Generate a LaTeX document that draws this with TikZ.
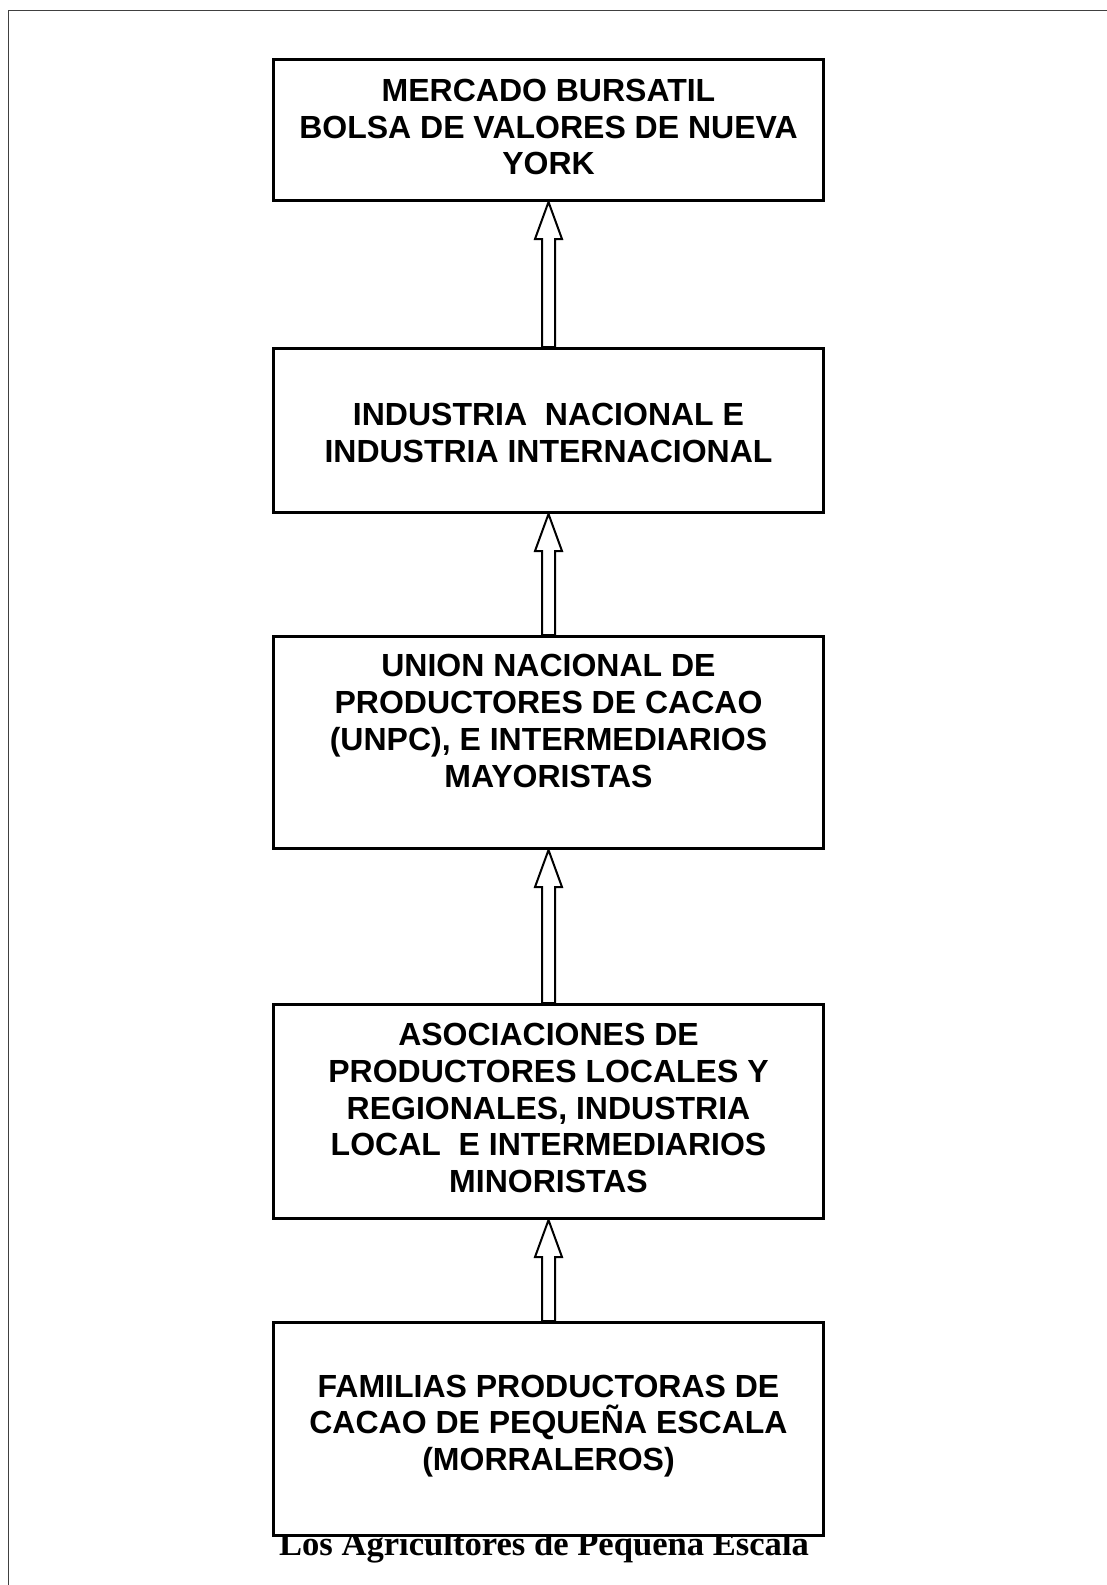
\documentclass[tikz,border=0pt]{standalone}
\usepackage{fontspec}
\setmainfont{Liberation Sans}
\newfontfamily\romanfont{Liberation Serif}
\usetikzlibrary{calc}

\tikzset{
  caja/.style={draw, line width=1.5pt, fill=white, minimum width=275pt, inner sep=0pt},
  texto/.style={align=center, font=\fontsize{16}{18.4}\selectfont\bfseries},
  flecha/.style={draw, line width=1pt, fill=white, line join=miter},
}

% hollow block arrow from the lower box up to the upper one
\newcommand{\flechahueca}[2]{%
  \draw[flecha] (#1.south) -- ++(13.5,37) -- ++(-7,0)
    -- ($(#2.north)+(6.5,0)$) -- ($(#2.north)+(-6.5,0)$)
    -- ($(#1.south)+(-6.5,37)$) -- ++(-7,0) -- cycle;
}

\begin{document}
\begin{tikzpicture}[x=0.5pt,y=-0.5pt]
\useasboundingbox (0,0) rectangle (1107,1585);

% Frame
\draw[line width=0.5pt, black!75] (8,1585) -- (8,10) -- (1107,10);

% Caption (partly hidden by the last box)
\node[font=\romanfont\fontsize{17.3}{20}\selectfont\bfseries, anchor=base] (pie) at (544,1555) {Los Agricultores de Pequeña Escala};

% Boxes
\node[caja, minimum height=70.5pt] (bolsa) at (548.5,130) {};
\node[caja, minimum height=82pt] (industria) at (548.5,430.5) {};
\node[caja, minimum height=106pt] (unpc) at (548.5,742.5) {};
\node[caja, minimum height=107pt] (asociaciones) at (548.5,1111.5) {};
\node[caja, minimum height=106.5pt] (familias) at (548.5,1429) {};

% Box texts
\node[texto] (tbolsa) at (548.5,127) {MERCADO BURSATIL\\BOLSA DE VALORES DE NUEVA\\YORK};
\node[texto] (tindustria) at (548.5,433) {INDUSTRIA\ \ NACIONAL E\\INDUSTRIA INTERNACIONAL};
\node[texto] (tunpc) at (548.5,721) {UNION NACIONAL DE\\PRODUCTORES DE CACAO\\(UNPC), E INTERMEDIARIOS\\MAYORISTAS};
\node[texto] (tasociaciones) at (548.5,1108) {ASOCIACIONES DE\\PRODUCTORES LOCALES Y\\REGIONALES, INDUSTRIA\\LOCAL\ \ E INTERMEDIARIOS\\MINORISTAS};
\node[texto] (tfamilias) at (548.5,1426) {FAMILIAS PRODUCTORAS DE\\CACAO DE PEQUEÑA ESCALA\\(MORRALEROS)};

% Arrows
\flechahueca{bolsa}{industria}
\flechahueca{industria}{unpc}
\flechahueca{unpc}{asociaciones}
\flechahueca{asociaciones}{familias}

\end{tikzpicture}
\end{document}
